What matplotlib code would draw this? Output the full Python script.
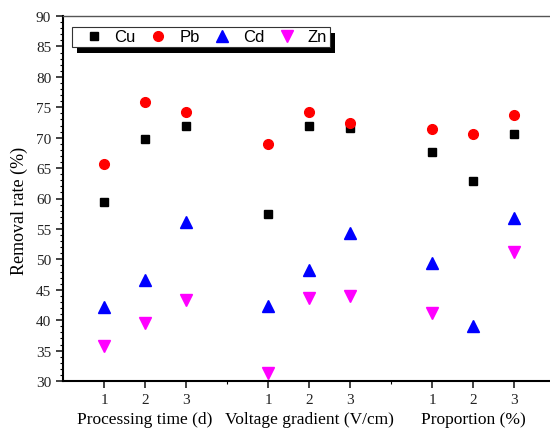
import matplotlib.pyplot as plt
from matplotlib.patches import Rectangle
from matplotlib.ticker import MultipleLocator, FixedLocator

# x positions of the three factor groups (gaps at 4 and 8)
xpos = [1, 2, 3, 5, 6, 7, 9, 10, 11]
xlabels = ["1", "2", "3", "1", "2", "3", "1", "2", "3"]
groups = ["Processing time (d)", "Voltage gradient (V/cm)", "Proportion (%)"]
group_centers = [2, 6, 10]

cu = [59.4, 69.8, 71.9, 57.4, 72.0, 71.6, 67.7, 62.8, 70.6]
pb = [65.6, 75.8, 74.2, 69.0, 74.3, 72.4, 71.4, 70.6, 73.7]
cd = [42.2, 46.6, 56.2, 42.4, 48.3, 54.3, 49.4, 39.0, 56.8]
zn_x = [1, 2, 3, 5, 6, 7, 9, 11]
zn = [35.8, 39.6, 43.3, 31.3, 43.6, 43.9, 41.1, 51.2]

plt.rcParams['font.family'] = 'Liberation Serif'

fig = plt.figure(figsize=(5.5, 4.31), dpi=100)
ax = fig.add_axes([63/550, 1-382/431, 492/550, 365/431])

ax.plot(xpos, cu, 's', color='black', ms=6, label='Cu', linestyle='none')
ax.plot(xpos, pb, 'o', color='red', ms=7, label='Pb', linestyle='none')
ax.plot(xpos, cd, '^', color='blue', ms=8, label='Cd', linestyle='none')
ax.plot(zn_x, zn, 'v', color='magenta', ms=8, label='Zn', linestyle='none')

ax.set_xlim(0, 12)
ax.set_ylim(30, 90)
ax.yaxis.set_major_locator(MultipleLocator(5))
ax.yaxis.set_minor_locator(MultipleLocator(1))
ax.xaxis.set_major_locator(FixedLocator(xpos))
ax.xaxis.set_minor_locator(FixedLocator([4, 8]))
ax.set_xticklabels(xlabels)
ax.tick_params(axis='both', which='major', direction='out', length=5, width=1.2, labelsize=11, colors='#222222')
ax.tick_params(axis='both', which='minor', direction='out', length=2.5, width=0.8)
ax.tick_params(axis='x', pad=4)

for s in ['left', 'bottom']:
    ax.spines[s].set_linewidth(1.5)
ax.spines['top'].set_color('#555555')
ax.spines['top'].set_linewidth(1.0)
ax.spines['right'].set_visible(False)

ax.set_ylabel('Removal rate (%)', fontsize=13)
ax.yaxis.set_label_coords(-0.071, 0.47)

for name, c in zip(groups, group_centers):
    ax.text(c, -0.105, name, transform=ax.get_xaxis_transform(), ha='center', va='center', fontsize=12.5)

leg = ax.legend(ncol=4, loc='upper left', bbox_to_anchor=(72/550, 1-28/431), bbox_transform=fig.transFigure,
                frameon=True, fancybox=False, edgecolor='#333333', framealpha=1,
                prop={'family': 'Liberation Sans', 'size': 12}, handletextpad=0.1, columnspacing=0.2,
                borderpad=0.15, handlelength=2.3, numpoints=1, borderaxespad=0)
leg.get_frame().set_linewidth(0.8)
leg.set_zorder(6)

# black drop shadow under the legend box
fig.canvas.draw()
bb = leg.get_window_extent()
shadow = Rectangle((bb.x0 + 5, bb.y0 - 6), bb.width, bb.height, transform=None,
                   facecolor='black', edgecolor='none', zorder=5, clip_on=False)
ax.add_artist(shadow)

fig.savefig('out.png', dpi=100)
